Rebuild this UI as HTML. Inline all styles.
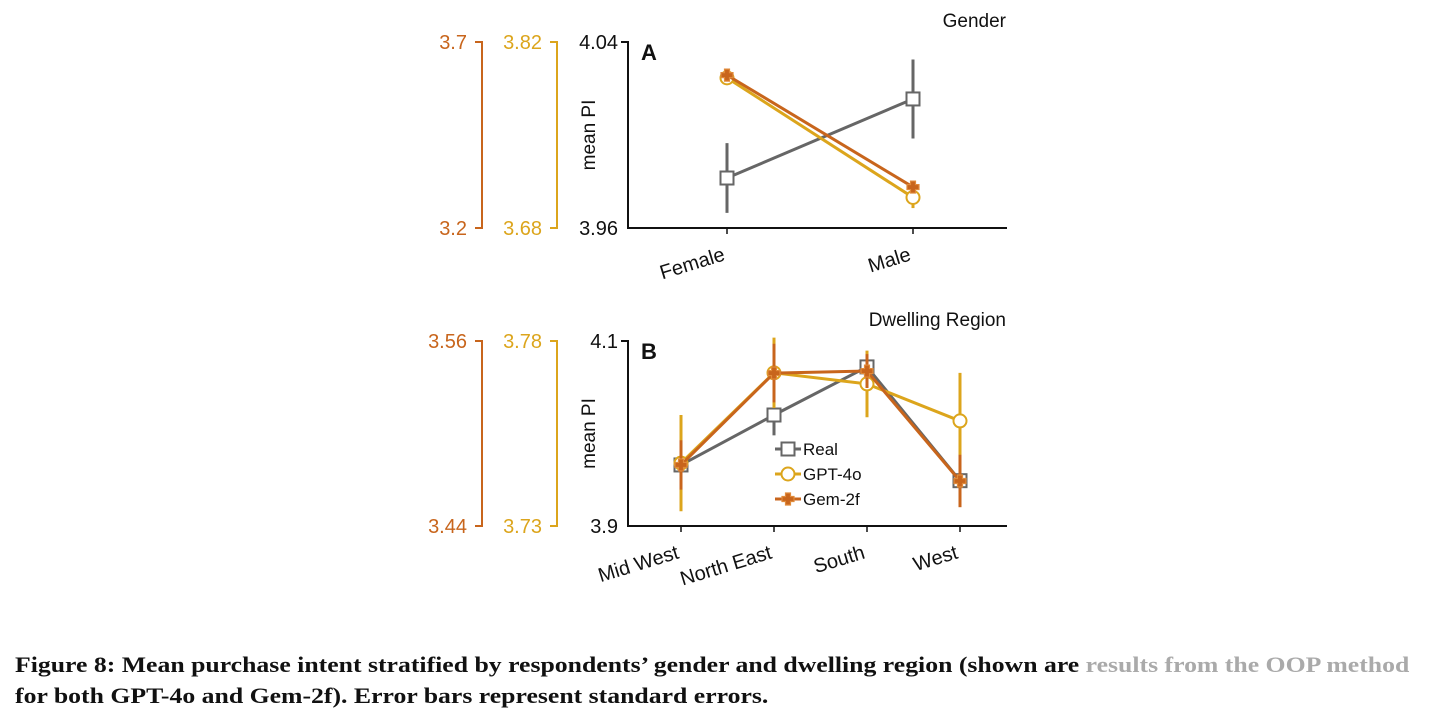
<!DOCTYPE html>
<html><head><meta charset="utf-8"><style>
body{margin:0;background:#fff;width:1430px;height:719px;overflow:hidden;font-family:"Liberation Sans",sans-serif}
svg{position:absolute;left:0;top:0}
.cap{position:absolute;left:15px;font-family:"Liberation Serif",serif;font-weight:bold;font-size:22px;color:#111;white-space:nowrap;transform:scaleX(1.17);transform-origin:left top}
</style></head><body>
<svg id="chart" width="1430" height="719" viewBox="0 0 1430 719"></svg>
<div class="cap" style="top:652px">Figure 8: Mean purchase intent stratified by respondents’ gender and dwelling region (shown are<span style="color:#aaa"> results from the OOP method</span></div>
<div class="cap" style="top:683px">for both GPT-4o and Gem-2f). Error bars represent standard errors.</div>
<script>
// Panel A data
const genderCats = ["Female","Male"];
const genderReal = [3.9815, 4.0155];
const genderRealErr = [0.015, 0.017];
const genderGpt = [3.793, 3.703];
const genderGptErr = [0.003, 0.008];
const genderGem = [3.611, 3.310];
const genderGemErr = [0.01, 0.012];
const genderRealTicks = ["3.96","4.04"];
const genderGptTicks = ["3.68","3.82"];
const genderGemTicks = ["3.2","3.7"];
// Panel B data
const regionCats = ["Mid West","North East","South","West"];
const regionReal = [3.966, 4.020, 4.072, 3.949];
const regionRealErr = [0.011, 0.022, 0.011, 0.012];
const regionGpt = [3.747, 3.7714, 3.7684, 3.7584];
const regionGptErr = [0.013, 0.0095, 0.009, 0.013];
const regionGem = [3.4796, 3.5392, 3.5405, 3.4692];
const regionGemErr = [0.016, 0.019, 0.011, 0.017];
const regionRealTicks = ["3.9","4.1"];
const regionGptTicks = ["3.73","3.78"];
const regionGemTicks = ["3.44","3.56"];

const NS="http://www.w3.org/2000/svg";
const svg=document.getElementById('chart');
const C={real:"#666666",gpt:"#dca51c",gem:"#c8651c"};
function el(tag,attrs,parent,txt){const e=document.createElementNS(NS,tag);for(const k in attrs)e.setAttribute(k,attrs[k]);if(txt!==undefined)e.textContent=txt;(parent||svg).appendChild(e);return e;}

function panel(cfg){
  const g=el('g',{});
  
  
  const {top,bot,x0,x1,xs}=cfg;
  const sy=(v,t)=>bot-(v-parseFloat(t[0]))/(parseFloat(t[1])-parseFloat(t[0]))*(bot-top);
  [[cfg.gemTicks,482,C.gem,"gem-side-axis"],[cfg.gptTicks,557,C.gpt,"gpt-side-axis"]].forEach(([t,x,col,nm])=>{
    const a=el('g',{},g);
    
    
    el('path',{d:`M${x-7},${top}H${x}V${bot}H${x-7}`,fill:'none',stroke:col,'stroke-width':2},a);
    el('text',{x:x-15,y:top+7,'text-anchor':'end','font-size':20,fill:col},a,t[1]);
    el('text',{x:x-15,y:bot+7,'text-anchor':'end','font-size':20,fill:col},a,t[0]);
  });
  el('path',{d:`M${x0-7},${top}H${x0}V${bot}H${x1}`,fill:'none',stroke:'#111','stroke-width':2},g);
  el('text',{x:x0-10,y:top+7,'text-anchor':'end','font-size':20,fill:'#111'},g,cfg.realTicks[1]);
  el('text',{x:x0-10,y:bot+7,'text-anchor':'end','font-size':20,fill:'#111'},g,cfg.realTicks[0]);
  el('text',{x:0,y:0,'font-size':19,fill:'#111','text-anchor':'middle',transform:`translate(${x0-33},${(top+bot)/2}) rotate(-90)`},g,'mean PI');
  el('text',{x:x0+13,y:top+18,'font-size':22,'font-weight':'bold',fill:'#111'},g,cfg.letter);
  el('text',{x:x1-1,y:top-15,'font-size':19,'text-anchor':'end',fill:'#111'},g,cfg.title);
  cfg.cats.forEach((c,i)=>{
    el('line',{x1:xs[i],x2:xs[i],y1:bot,y2:bot+6,stroke:'#111','stroke-width':1.5},g);
    const t=el('text',{x:0,y:0,'font-size':20,'text-anchor':'end',fill:'#111',transform:`translate(${xs[i]-1},${bot+32}) rotate(-17)`},g,c);
    
    
  });
  const series=[["real",cfg.real,cfg.realErr,cfg.realTicks],["gpt",cfg.gpt,cfg.gptErr,cfg.gptTicks],["gem",cfg.gem,cfg.gemErr,cfg.gemTicks]];
  series.forEach(([k,vals,errs,t])=>{
    const s=el('g',{},g);
    
    
    const col=C[k];
    errs.forEach((e,i)=>el('line',{x1:xs[i],x2:xs[i],y1:sy(vals[i]-e,t),y2:sy(vals[i]+e,t),stroke:col,'stroke-width':3},s));
    el('polyline',{points:vals.map((v,i)=>xs[i]+','+sy(v,t)).join(' '),fill:'none',stroke:col,'stroke-width':3},s);
    vals.forEach((v,i)=>marker(s,k,xs[i],sy(v,t)));
  });
  if(cfg.legend){
    const L=el('g',{},g);
    
    
    [["real","Real"],["gpt","GPT-4o"],["gem","Gem-2f"]].forEach(([k,n],j)=>{
      const y=449+j*25;
      el('line',{x1:775,x2:801,y1:y,y2:y,stroke:C[k],'stroke-width':3},L);
      marker(L,k,788,y);
      el('text',{x:803,y:y+6,'font-size':17,fill:'#111'},L,n);
    });
  }
}
function marker(p,k,x,y){
  const col=C[k];
  if(k==='real') el('rect',{x:x-6.5,y:y-6.5,width:13,height:13,fill:'#fff',stroke:col,'stroke-width':2},p);
  else if(k==='gpt') el('circle',{cx:x,cy:y,r:6.5,fill:'#fff',stroke:col,'stroke-width':2},p);
  else el('path',{d:`M${x-2.5},${y-6}h5v3.5h3.5v5h-3.5v3.5h-5v-3.5h-3.5v-5h3.5z`,fill:col,stroke:'#e08a3a','stroke-width':1.2},p);
}
panel({name:'panel-a-gender',top:42,bot:228,x0:628,x1:1007,xs:[727,913],cats:genderCats,letter:'A',title:'Gender',
 real:genderReal,realErr:genderRealErr,gpt:genderGpt,gptErr:genderGptErr,gem:genderGem,gemErr:genderGemErr,
 realTicks:genderRealTicks,gptTicks:genderGptTicks,gemTicks:genderGemTicks});
panel({name:'panel-b-region',top:341,bot:526,x0:628,x1:1007,xs:[681,774,867,960],cats:regionCats,letter:'B',title:'Dwelling Region',legend:true,
 real:regionReal,realErr:regionRealErr,gpt:regionGpt,gptErr:regionGptErr,gem:regionGem,gemErr:regionGemErr,
 realTicks:regionRealTicks,gptTicks:regionGptTicks,gemTicks:regionGemTicks});
</script>
</body></html>
